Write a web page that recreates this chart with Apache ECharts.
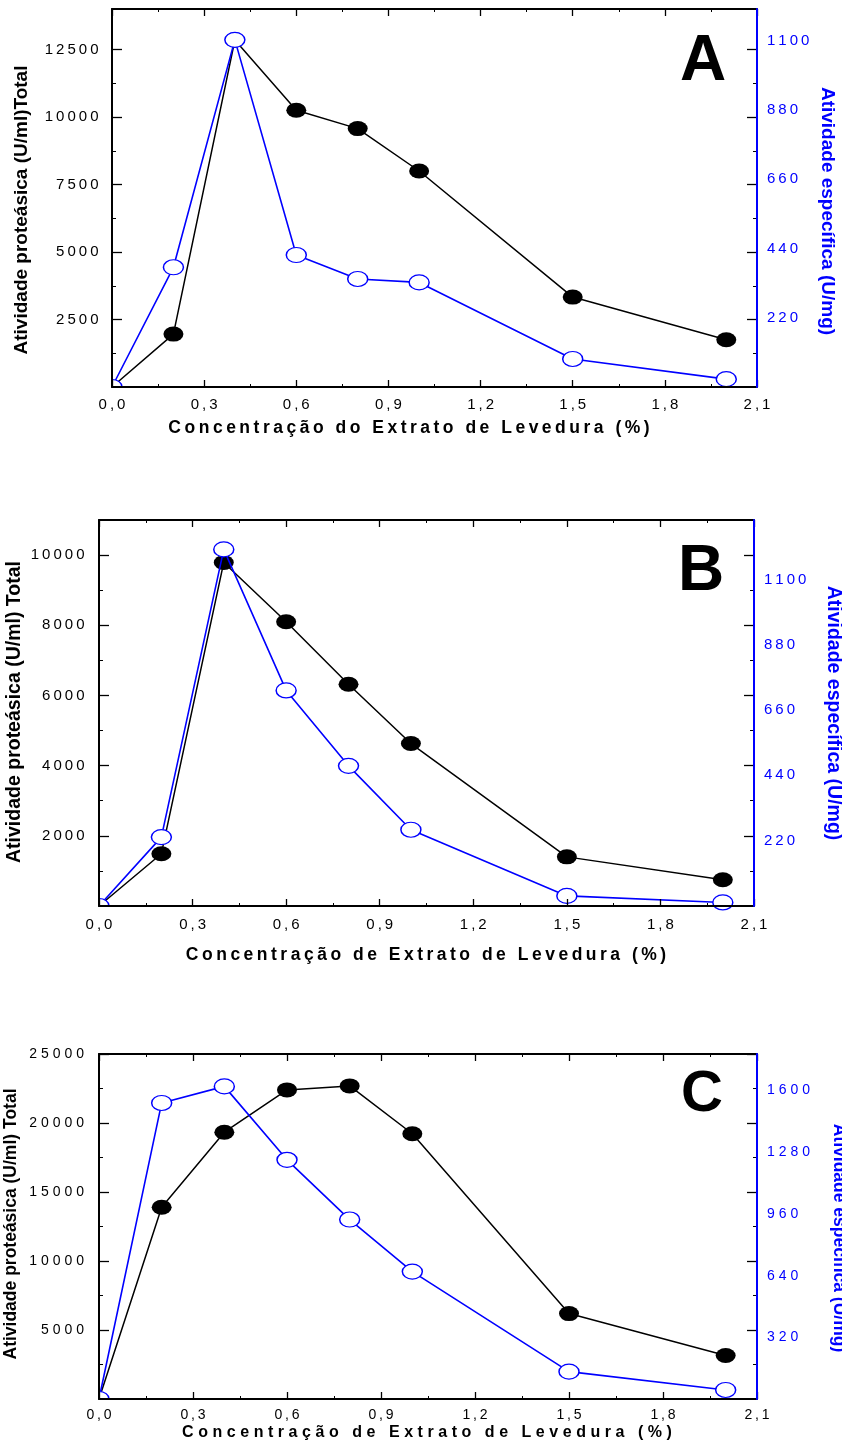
<!DOCTYPE html>
<html>
<head>
<meta charset="utf-8">
<script src="https://cdn.jsdelivr.net/npm/echarts@6/dist/echarts.min.js"></script>
<style>
  html, body { margin: 0; padding: 0; background: #fff; }
  #chart { width: 842px; height: 1445px; }
</style>
</head>
<body>
<div id="chart"></div>
<script>
// Yeast extract concentration (%) shared by the three experiments
const concentracao = [0, 0.2, 0.4, 0.6, 0.8, 1.0, 1.5, 2.0];
const xTicks = [0, 0.3, 0.6, 0.9, 1.2, 1.5, 1.8, 2.1];

// Panel A
const totalA = [0, 1960, 12850, 10250, 9570, 8000, 3330, 1750];
const especificaA = [0, 380, 1102, 419, 343, 332, 89, 25];
const totalTicksA = [2500, 5000, 7500, 10000, 12500];
const especificaTicksA = [220, 440, 660, 880, 1100];

// Panel B
const totalB = [0, 1490, 9790, 8100, 6320, 4630, 1400, 750];
const especificaB = [0, 232, 1201, 726, 472, 257, 34, 12];
const totalTicksB = [2000, 4000, 6000, 8000, 10000];
const especificaTicksB = [220, 440, 660, 880, 1100];

// Panel C
const totalC = [0, 13900, 19330, 22400, 22690, 19220, 6190, 3150];
const especificaC = [0, 1536, 1622, 1241, 931, 661, 142, 47];
const totalTicksC = [5000, 10000, 15000, 20000, 25000];
const especificaTicksC = [320, 640, 960, 1280, 1600];

const FONT = '"Liberation Sans", Arial, Helvetica, sans-serif';
const BLUE = '#0000ff';
const THIN = '\u2009';
const HAIR = '\u200A';
const ELLIPSE = 'path://M0,10A10,10,0,1,1,20,10A10,10,0,1,1,0,10Z';

// letter-spaced text (canvas text has no letter-spacing, so pad with narrow spaces)
const sp = (s, gap) => Array.from(s).join(gap);
const halfStep = (ticks) => ticks.map(v => v - (ticks[1] - ticks[0]) / 2);

const panels = [
  {
    letter: 'A', letterSize: 64, letterPos: [703, 62],
    total: totalA, esp: especificaA, tTicks: totalTicksA, eTicks: especificaTicksA,
    tMax: 14000, eMax: 1200,
    grid: { left: 112, top: 9, width: 645, height: 378 },
    tickFont: 15, yGap: THIN, xGap: THIN, leftMargin: 13.5, rightMargin: 10, xMargin: 10.5,
    yTitle: 'Atividade proteásica (U/ml)Total', yTitleSize: 19, yTitlePos: [22, 210],
    eTitle: 'Atividade específica (U/mg)', eTitleSize: 19, eTitlePos: [827, 211],
    xTitle: 'Concentração do Extrato de Levedura (%)', xTitleSize: 17.5, xTitleGap: THIN, xTitlePos: [409, 428]
  },
  {
    letter: 'B', letterSize: 64, letterPos: [701, 572],
    total: totalB, esp: especificaB, tTicks: totalTicksB, eTicks: especificaTicksB,
    tMax: 11000, eMax: 1300,
    grid: { left: 99, top: 520, width: 655, height: 386 },
    tickFont: 15, yGap: THIN, xGap: THIN, leftMargin: 14.5, rightMargin: 10, xMargin: 11,
    yTitle: 'Atividade proteásica (U/ml) Total', yTitleSize: 19.5, yTitlePos: [15, 712],
    eTitle: 'Atividade específica (U/mg)', eTitleSize: 19.5, eTitlePos: [833, 713],
    xTitle: 'Concentração de Extrato de Levedura (%)', xTitleSize: 17.5, xTitleGap: THIN, xTitlePos: [426, 955]
  },
  {
    letter: 'C', letterSize: 58, letterPos: [702, 1095],
    total: totalC, esp: especificaC, tTicks: totalTicksC, eTicks: especificaTicksC,
    tMax: 25000, eMax: 1790,
    grid: { left: 99, top: 1054, width: 658, height: 345 },
    tickFont: 14, yGap: THIN + HAIR, xGap: THIN, leftMargin: 15, rightMargin: 10, xMargin: 9,
    yTitle: 'Atividade proteásica (U/ml) Total', yTitleSize: 17.5, yTitlePos: [11, 1224],
    eTitle: 'Atividade específica (U/mg)', eTitleSize: 17.5, eTitlePos: [839, 1238],
    xTitle: 'Concentração de Extrato de Levedura (%)', xTitleSize: 16, xTitleGap: THIN + HAIR, xTitlePos: [427, 1433]
  }
];

const option = {
  animation: false,
  backgroundColor: '#fff',
  grid: [], xAxis: [], yAxis: [], series: [], graphic: []
};

panels.forEach((p, i) => {
  option.grid.push({ left: p.grid.left, top: p.grid.top, width: p.grid.width, height: p.grid.height });

  const xBottom = option.xAxis.length;
  const xBase = {
    gridIndex: i, type: 'value', min: 0, max: 2.1, interval: 0.3, z: 20,
    axisLine: { show: true, onZero: false, lineStyle: { color: '#000', width: 2 } },
    axisTick: { show: true, inside: true, length: 7, lineStyle: { color: '#000', width: 1.3 } },
    minorTick: { show: true, splitNumber: 2, length: 3, lineStyle: { color: '#000', width: 1 } },
    splitLine: { show: false }, minorSplitLine: { show: false }
  };
  option.xAxis.push(Object.assign({}, xBase, {
    position: 'bottom',
    axisLabel: {
      margin: p.xMargin, fontSize: p.tickFont, fontFamily: FONT, color: '#000',
      formatter: v => sp(v.toFixed(1).replace('.', ','), p.xGap)
    }
  }));
  option.xAxis.push(Object.assign({}, xBase, { position: 'top', axisLabel: { show: false } }));

  const tickAxis = (pos, ticks, len, line) => ({
    gridIndex: i, type: 'value', position: pos, min: 0, max: p.tMax, z: 20,
    axisLine: line ? { show: true, onZero: false, lineStyle: { color: '#000', width: 2 } } : { show: false, onZero: false },
    axisTick: { show: true, inside: true, length: len, customValues: ticks, lineStyle: { color: '#000', width: len > 5 ? 1.3 : 1 } },
    axisLabel: { show: false },
    splitLine: { show: false }
  });

  // left axis: total activity, labelled
  const yLeft = option.yAxis.length;
  const left = tickAxis('left', p.tTicks, 10, true);
  left.axisLabel = {
    show: true, customValues: p.tTicks, margin: p.leftMargin,
    fontSize: p.tickFont, fontFamily: FONT, color: '#000',
    formatter: v => sp(String(v), p.yGap)
  };
  option.yAxis.push(left);
  option.yAxis.push(tickAxis('left', halfStep(p.tTicks), 4, false));
  // right side mirrors the left ticks
  option.yAxis.push(tickAxis('right', p.tTicks, 10, false));
  option.yAxis.push(tickAxis('right', halfStep(p.tTicks), 4, false));
  // right axis: specific activity, blue labels
  const yRight = option.yAxis.length;
  option.yAxis.push({
    gridIndex: i, type: 'value', position: 'right', min: 0, max: p.eMax, z: 21,
    axisLine: { show: true, onZero: false, lineStyle: { color: BLUE, width: 2 } },
    axisTick: { show: false },
    axisLabel: {
      customValues: p.eTicks, margin: p.rightMargin,
      fontSize: p.tickFont, fontFamily: FONT, color: BLUE,
      formatter: v => sp(String(v), p.yGap)
    },
    splitLine: { show: false }
  });

  option.series.push({
    type: 'line', xAxisIndex: xBottom, yAxisIndex: yLeft, silent: true, z: 3,
    data: concentracao.map((x, k) => k === 0 ? { value: [x, p.total[k]], symbol: 'none' } : [x, p.total[k]]),
    symbol: ELLIPSE, symbolSize: [20, 15],
    itemStyle: { color: '#000' },
    lineStyle: { color: '#000', width: 1.5 }
  });
  option.series.push({
    type: 'line', xAxisIndex: xBottom, yAxisIndex: yRight, silent: true, z: 4,
    data: concentracao.map((x, k) => [x, p.esp[k]]),
    symbol: ELLIPSE, symbolSize: [20, 15],
    itemStyle: { color: '#fff', borderColor: BLUE, borderWidth: 1.3 },
    lineStyle: { color: BLUE, width: 1.6 }
  });

  const g = p.grid;
  const bottom = g.top + g.height;
  // white masks keep the origin marker inside the frame
  option.graphic.push({ type: 'rect', z: 10, silent: true,
    shape: { x: g.left - 14, y: bottom - 14, width: 13, height: 24 }, style: { fill: '#fff' } });
  option.graphic.push({ type: 'rect', z: 10, silent: true,
    shape: { x: g.left - 14, y: bottom + 1, width: 30, height: 8 }, style: { fill: '#fff' } });

  const text = (t, pos, size, color, rot) => ({
    type: 'text', x: pos[0], y: pos[1], rotation: rot, z: 30, silent: true,
    style: {
      text: t, fill: color, fontSize: size, fontWeight: 'bold', fontFamily: FONT,
      align: 'center', verticalAlign: 'middle', textAlign: 'center', textVerticalAlign: 'middle'
    }
  });
  option.graphic.push(text(p.letter, p.letterPos, p.letterSize, '#000', 0));
  option.graphic.push(text(p.yTitle, p.yTitlePos, p.yTitleSize, '#000', Math.PI / 2));
  option.graphic.push(text(p.eTitle, p.eTitlePos, p.eTitleSize, BLUE, -Math.PI / 2));
  option.graphic.push(text(sp(p.xTitle, p.xTitleGap), p.xTitlePos, p.xTitleSize, '#000', 0));
});

const chart = echarts.init(document.getElementById('chart'), null, { renderer: 'canvas' });
chart.setOption(option);
</script>
</body>
</html>
